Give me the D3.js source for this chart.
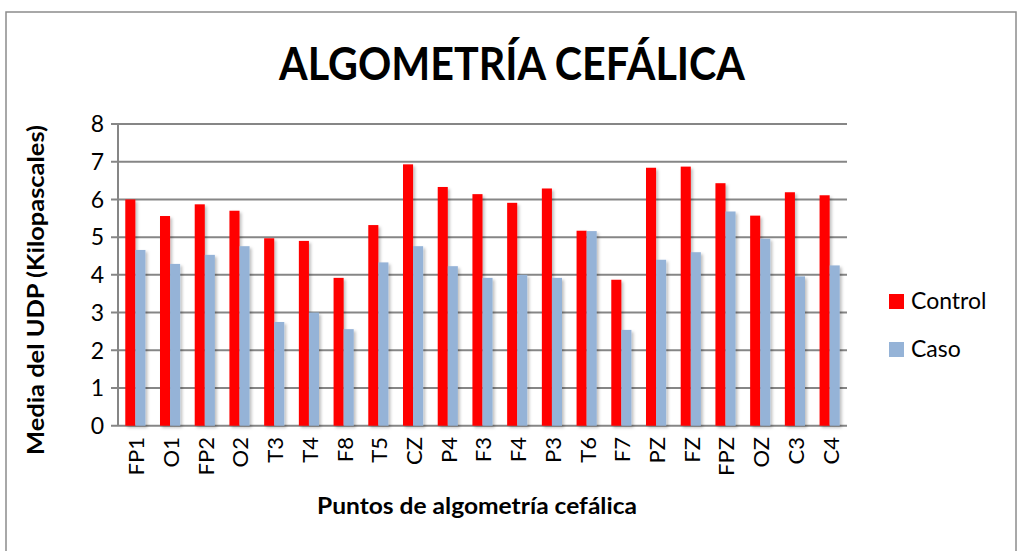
<!DOCTYPE html>
<html>
<head>
<meta charset="utf-8">
<script src="https://cdn.jsdelivr.net/npm/d3@7"></script>
<style>
  body { margin: 0; background: #fff; }
  svg { display: block; font-family: Lato, Calibri, "Noto Sans", sans-serif; }
</style>
</head>
<body>
<svg id="chart" width="1017" height="551"></svg>
<script>
// Datos
const puntos = ['FP1', 'O1', 'FP2', 'O2', 'T3', 'T4', 'F8', 'T5', 'CZ', 'P4', 'F3', 'F4', 'P3', 'T6', 'F7', 'PZ', 'FZ', 'FPZ', 'OZ', 'C3', 'C4']
const control = [6.0, 5.56, 5.87, 5.7, 4.97, 4.9, 3.92, 5.32, 6.93, 6.33, 6.14, 5.91, 6.29, 5.17, 3.87, 6.84, 6.87, 6.43, 5.57, 6.19, 6.11]
const caso = [4.66, 4.29, 4.53, 4.76, 2.75, 3.0, 2.56, 4.33, 4.76, 4.23, 3.92, 4.0, 3.92, 5.16, 2.54, 4.4, 4.6, 5.68, 4.96, 3.96, 4.25]
const series = ['Control', 'Caso']
const yTicks = [0, 1, 2, 3, 4, 5, 6, 7, 8]

const colors = { Control: '#ff0000', Caso: '#95b3d7' }
const gridColor = '#868686'

const svg = d3.select('#chart')

// marco exterior
svg.append('rect')
    .attr('x', 6).attr('y', 12)
    .attr('width', 1010).attr('height', 560)
    .attr('fill', 'none')
    .attr('stroke', '#8c8c8c')
    .attr('stroke-width', 1.5)

const defs = svg.append('defs')
defs.append('filter')
    .attr('id', 'shadow')
    .attr('x', '-30%').attr('y', '-10%')
    .attr('width', '180%').attr('height', '130%')
    .append('feDropShadow')
    .attr('dx', 2).attr('dy', 2)
    .attr('stdDeviation', 1.6)
    .attr('flood-color', '#000')
    .attr('flood-opacity', 0.25)

const plotLeft = 118, plotRight = 847, plotTop = 124, plotBottom = 425.7

const x0 = d3.scaleBand()
    .domain(puntos)
    .range([plotLeft, plotRight])
    .paddingInner(0.42)
    .paddingOuter(0.21)

const x1 = d3.scaleBand()
    .domain(series)
    .range([0, x0.bandwidth()])

const y = d3.scaleLinear()
    .domain([0, 8])
    .range([plotBottom, plotTop])

// lineas de cuadricula
svg.append('g')
    .selectAll('line')
    .data(yTicks)
    .join('line')
    .attr('x1', plotLeft - 7)
    .attr('x2', plotRight)
    .attr('y1', d => y(d))
    .attr('y2', d => y(d))
    .attr('stroke', gridColor)
    .attr('stroke-width', 2)

// eje y
svg.append('line')
    .attr('x1', plotLeft).attr('x2', plotLeft)
    .attr('y1', plotTop).attr('y2', plotBottom)
    .attr('stroke', gridColor)
    .attr('stroke-width', 2)

svg.append('g')
    .selectAll('text')
    .data(yTicks)
    .join('text')
    .attr('x', 104)
    .attr('y', d => y(d))
    .attr('dy', '0.36em')
    .attr('text-anchor', 'end')
    .attr('font-size', 23)
    .attr('fill', '#000')
    .text(d => d)

// barras
const rows = puntos.map((p, i) => ({ punto: p, Control: control[i], Caso: caso[i] }))

const groups = svg.append('g')
    .selectAll('g')
    .data(rows)
    .join('g')
    .attr('transform', d => `translate(${x0(d.punto)},0)`)

groups.selectAll('rect')
    .data(d => series.map(s => ({ key: s, value: d[s] })))
    .join('rect')
    .attr('x', d => x1(d.key))
    .attr('y', d => y(d.value))
    .attr('width', x1.bandwidth())
    .attr('height', d => y(0) - y(d.value))
    .attr('fill', d => colors[d.key])
    .attr('filter', 'url(#shadow)')

// etiquetas x
svg.append('g')
    .selectAll('text')
    .data(puntos)
    .join('text')
    .attr('transform', d => `translate(${x0(d) + x0.bandwidth() / 2 + 1},437) rotate(-90)`)
    .attr('dy', '0.36em')
    .attr('text-anchor', 'end')
    .attr('font-size', 22)
    .attr('fill', '#000')
    .text(d => d)

// titulos
svg.append('text')
    .attr('x', 512).attr('y', 80)
    .attr('text-anchor', 'middle')
    .attr('font-size', 46)
    .attr('font-weight', 'bold')
    .attr('textLength', 466)
    .attr('lengthAdjust', 'spacingAndGlyphs')
    .text('ALGOMETRÍA CEFÁLICA')

svg.append('text')
    .attr('transform', 'translate(44,290) rotate(-90)')
    .attr('text-anchor', 'middle')
    .attr('font-size', 23)
    .attr('font-weight', 'bold')
    .attr('textLength', 330)
    .attr('lengthAdjust', 'spacingAndGlyphs')
    .text('Media del UDP (Kilopascales)')

svg.append('text')
    .attr('x', 477).attr('y', 514)
    .attr('text-anchor', 'middle')
    .attr('font-size', 22)
    .attr('font-weight', 'bold')
    .attr('textLength', 320)
    .attr('lengthAdjust', 'spacingAndGlyphs')
    .text('Puntos de algometría cefálica')

// leyenda
const legend = svg.append('g')
    .selectAll('g')
    .data(series)
    .join('g')
    .attr('transform', (d, i) => `translate(889,${294 + i * 48})`)

legend.append('rect')
    .attr('width', 15).attr('height', 15)
    .attr('fill', d => colors[d])

legend.append('text')
    .attr('x', 22).attr('y', 15)
    .attr('font-size', 23)
    .text(d => d)
</script>
</body>
</html>
